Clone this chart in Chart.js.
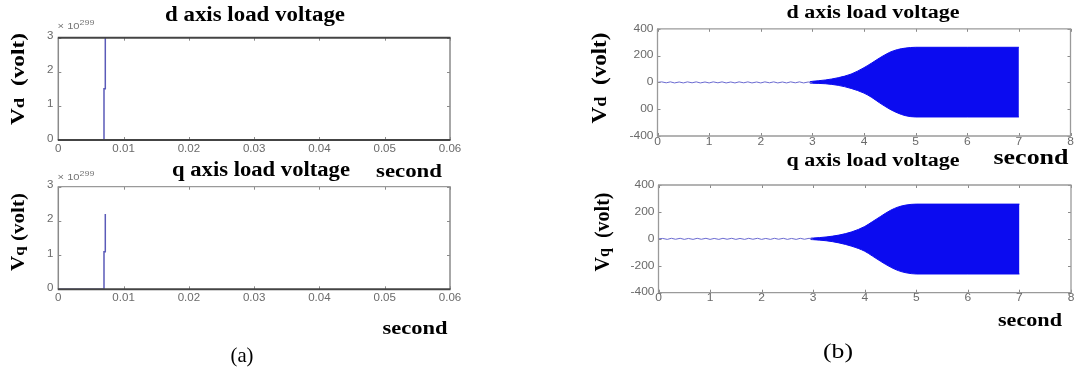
<!DOCTYPE html>
<html><head><meta charset="utf-8">
<script src="https://cdn.jsdelivr.net/npm/chart.js@4"></script>
<style>
html,body{margin:0;padding:0;background:#fff;}
body{width:1075px;height:376px;position:relative;overflow:hidden;}
canvas{position:absolute;left:0;top:0;}
.t{position:absolute;white-space:nowrap;line-height:1;transform-origin:0 0;color:#000;}
.t sup{font-size:0.8em;vertical-align:0.5em;line-height:0;}
</style></head><body>
<canvas id="ad" width="1075" height="376"></canvas>
<canvas id="aq" width="1075" height="376"></canvas>
<canvas id="bd" width="1075" height="376"></canvas>
<canvas id="bq" width="1075" height="376"></canvas>
<script>
// ---------- data ----------
// (a) values are in units of 1e299 volt
const aTicksX = [0, 0.01, 0.02, 0.03, 0.04, 0.05, 0.06];
const aLabelsX = ['0', '0.01', '0.02', '0.03', '0.04', '0.05', '0.06'];
const aTicksY = [0, 1, 2, 3];
const aLabelsY = ['0', '1', '2', '3'];
const adTime  = [0, 0.0070, 0.0070, 0.0072, 0.0072];
const adValue = [0, 0, 1.5, 1.5, 3.0];
const aqTime  = [0, 0.0070, 0.0070, 0.0072, 0.0072];
const aqValue = [0, 0, 1.1, 1.1, 2.2];

// (b)
const bTicksX = [0, 1, 2, 3, 4, 5, 6, 7, 8];
const bLabelsX = ['0', '1', '2', '3', '4', '5', '6', '7', '8'];
const bTicksY = [-400, -200, 0, 200, 400];
const bdLabelsY = ['-400', '00', '0', '200', '400'];
const bqLabelsY = ['-400', '-200', '0', '200', '400'];
const rippleTime = [0, 0.08, 0.17, 0.25, 0.33, 0.42, 0.5, 0.58, 0.67, 0.75, 0.83, 0.92, 1.0,
  1.08, 1.17, 1.25, 1.33, 1.42, 1.5, 1.58, 1.67, 1.75, 1.83, 1.92, 2.0,
  2.08, 2.17, 2.25, 2.33, 2.42, 2.5, 2.58, 2.67, 2.75, 2.83, 2.92, 3.0];
const bdRipple = [0, 4, -3, 4, -4, 3, -4, 4, -3, 4, -4, 3, -4,
  4, -3, 4, -4, 3, -4, 4, -3, 4, -4, 3, -4,
  4, -3, 4, -4, 3, -4, 4, -3, 4, -4, 3, -3];
const bqRipple = [0, 3, -4, 4, -3, 4, -4, 3, -4, 4, -3, 4, -4,
  3, -4, 4, -3, 4, -4, 3, -4, 4, -3, 4, -4,
  3, -4, 4, -3, 4, -4, 3, -4, 4, -3, 4, -3];
const envTime = [2.95, 3.0, 3.25, 3.5, 3.75, 4.0, 4.15, 4.3, 4.5, 4.65, 4.8, 5.0, 6.0, 7.0];
const bdUpper = [5, 8, 18, 35, 62, 110, 145, 182, 225, 245, 256, 262, 262, 262];
const bdLower = [-5, -6, -10, -22, -45, -80, -112, -152, -200, -228, -248, -258, -258, -258];
const bqUpper = [5, 6, 14, 28, 52, 92, 128, 165, 212, 237, 251, 258, 258, 258];
const bqLower = [-5, -6, -14, -30, -55, -92, -128, -165, -210, -236, -252, -261, -261, -261];

// ---------- helpers ----------
const W = 1075, H = 376;
const pts = (xs, ys) => xs.map((x, i) => ({x: x, y: ys[i]}));

function drawScaled(ctx, text, x, y, align, sx) {
  ctx.save();
  ctx.translate(x, y);
  ctx.scale(sx, 1);
  ctx.textAlign = align;
  ctx.textBaseline = 'middle';
  ctx.fillText(text, 0, 0);
  ctx.restore();
}

const boxPlugin = {
  id: 'box',
  afterDraw(chart, args, o) {
    const ctx = chart.ctx, a = chart.chartArea;
    const xs = chart.scales.x, ys = chart.scales.y;
    ctx.save();
    ctx.strokeStyle = o.tickColor;
    ctx.lineWidth = 1;
    ctx.beginPath();
    o.xTicks.forEach(v => {
      const p = Math.round(xs.getPixelForValue(v)) + 0.5;
      ctx.moveTo(p, a.bottom); ctx.lineTo(p, a.bottom - o.tickLen);
      ctx.moveTo(p, a.top); ctx.lineTo(p, a.top + o.tickLen);
    });
    o.yTicks.forEach(v => {
      const p = Math.round(ys.getPixelForValue(v)) + 0.5;
      ctx.moveTo(a.left, p); ctx.lineTo(a.left + o.tickLen, p);
      ctx.moveTo(a.right, p); ctx.lineTo(a.right - o.tickLen, p);
    });
    ctx.stroke();
    const side = (s, x1, y1, x2, y2) => {
      ctx.strokeStyle = s[0]; ctx.lineWidth = s[1];
      ctx.beginPath(); ctx.moveTo(x1, y1); ctx.lineTo(x2, y2); ctx.stroke();
    };
    const b = o.borders;
    side(b.left, a.left, a.top, a.left, a.bottom);
    side(b.right, a.right, a.top, a.right, a.bottom);
    side(b.top, a.left - 0.5, a.top, a.right + 0.5, a.top);
    side(b.bottom, a.left - 0.5, a.bottom, a.right + 0.5, a.bottom);
    ctx.fillStyle = o.labelColor;
    ctx.font = o.font;
    o.xTicks.forEach((v, i) => drawScaled(ctx, o.xLabels[i], xs.getPixelForValue(v), a.bottom + o.xDy, 'center', o.sx));
    o.yTicks.forEach((v, i) => drawScaled(ctx, o.yLabels[i], a.left - o.yDx, ys.getPixelForValue(v) + o.yDy, 'right', o.sx));
    ctx.restore();
  }
};

function makeChart(id, datasets, area, xr, yr, box) {
  return new Chart(document.getElementById(id), {
    type: 'line',
    data: {datasets: datasets},
    options: {
      responsive: false, animation: false, events: [],
      layout: {padding: {left: area.l, top: area.t, right: W - area.r, bottom: H - area.b}},
      scales: {
        x: {type: 'linear', min: xr[0], max: xr[1], display: false},
        y: {type: 'linear', min: yr[0], max: yr[1], display: false}
      },
      elements: {point: {radius: 0}, line: {tension: 0}},
      plugins: {legend: {display: false}, tooltip: {enabled: false}, box: box}
    },
    plugins: [boxPlugin]
  });
}

const aBoxBase = {
  xTicks: aTicksX, xLabels: aLabelsX, yTicks: aTicksY, yLabels: aLabelsY,
  tickColor: '#8a8a8a', tickLen: 3, labelColor: '#6a6a6a',
  font: '11px "Liberation Sans", Arial, sans-serif', sx: 1.05, xDy: 9, yDx: 5, yDy: -1.5
};
makeChart('ad', [
  {data: pts(adTime, adValue), borderColor: '#5a5ab8', borderWidth: 1.5, fill: false}
], {l: 58.3, r: 450, t: 37.7, b: 140}, [0, 0.06], [0, 3],
  Object.assign({}, aBoxBase, {borders: {
    top: ['#444', 2], bottom: ['#444', 2], left: ['#8a8a8a', 1.5], right: ['#8a8a8a', 1.5]}}));

makeChart('aq', [
  {data: pts(aqTime, aqValue), borderColor: '#5a5ab8', borderWidth: 1.5, fill: false}
], {l: 58.3, r: 450, t: 186.7, b: 289.3}, [0, 0.06], [0, 3],
  Object.assign({}, aBoxBase, {borders: {
    top: ['#9a9a9a', 1.2], bottom: ['#444', 2], left: ['#8a8a8a', 1.5], right: ['#8a8a8a', 1.5]}}));

const bBoxBase = {
  xTicks: bTicksX, xLabels: bLabelsX, yTicks: bTicksY,
  tickColor: '#8a8a8a', tickLen: 3, labelColor: '#6a6a6a',
  font: '10px "Liberation Sans", Arial, sans-serif', sx: 1.2, xDy: 6, yDx: 4, yDy: 0,
  borders: {top: ['#9a9a9a', 1.3], bottom: ['#9a9a9a', 1.3], left: ['#9a9a9a', 1.3], right: ['#9a9a9a', 1.3]}
};
const blue = '#0b0bf0';
const envLine = {borderColor: blue, borderWidth: 1, cubicInterpolationMode: 'monotone'};
makeChart('bd', [
  {data: pts(rippleTime, bdRipple), borderColor: '#6a6ad0', borderWidth: 1, fill: false},
  Object.assign({data: pts(envTime, bdUpper), fill: false}, envLine),
  Object.assign({data: pts(envTime, bdLower), fill: '-1', backgroundColor: blue}, envLine)
], {l: 657.5, r: 1070.5, t: 28.8, b: 136}, [0, 8], [-400, 400],
  Object.assign({}, bBoxBase, {yLabels: bdLabelsY}));

makeChart('bq', [
  {data: pts(rippleTime, bqRipple), borderColor: '#6a6ad0', borderWidth: 1, fill: false},
  Object.assign({data: pts(envTime, bqUpper), fill: false}, envLine),
  Object.assign({data: pts(envTime, bqLower), fill: '-1', backgroundColor: blue}, envLine)
], {l: 658.5, r: 1071, t: 185, b: 292.7}, [0, 8], [-400, 400],
  Object.assign({}, bBoxBase, {yLabels: bqLabelsY}));

// ---------- text ----------
const serifB = (px) => 'bold ' + px + 'px "Liberation Serif", "Times New Roman", serif';
const serif = (px) => px + 'px "Liberation Serif", "Times New Roman", serif';
const sans = (px) => px + 'px "Liberation Sans", Arial, sans-serif';
const sub = (c) => '<span style="font-size:0.8em">' + c + '</span>';
const texts = [
  {h: 'd axis load voltage', x: 255, y: 16, w: 180, f: serifB(20)},
  {h: 'q axis load voltage', x: 261, y: 171, w: 178, f: serifB(20)},
  {h: 'second', x: 409, y: 171.5, w: 66, f: serifB(19)},
  {h: 'second', x: 415, y: 329, w: 65, f: serifB(19)},
  {h: '(a)', x: 242, y: 357, w: 23, f: serif(21)},
  {h: 'V' + sub('d') + '&nbsp;&nbsp;(volt)', x: 19, y: 79, w: 92, f: serifB(19), rot: -90},
  {h: 'V' + sub('q') + '&nbsp;(volt)', x: 19, y: 232, w: 78, f: serifB(19), rot: -90},
  {h: '× 10<sup>299</sup>', x: 76, y: 27, w: 37, f: sans(9), c: '#777'},
  {h: '× 10<sup>299</sup>', x: 76, y: 178, w: 37, f: sans(9), c: '#777'},
  {h: 'd axis load voltage', x: 873, y: 14, w: 173, f: serifB(18)},
  {h: 'q axis load voltage', x: 873, y: 162, w: 173, f: serifB(18)},
  {h: 'second', x: 1030.5, y: 159.5, w: 75, f: serifB(21)},
  {h: 'second', x: 1030, y: 320.5, w: 64, f: serifB(19)},
  {h: '(b)', x: 838, y: 353, w: 30, f: serif(22)},
  {h: 'V' + sub('d') + '&nbsp;&nbsp;(volt)', x: 601, y: 78, w: 91, f: serifB(21), rot: -90},
  {h: 'V' + sub('q') + '&nbsp;&nbsp;(volt)', x: 604, y: 232, w: 79, f: serifB(21), rot: -90}
];
texts.forEach(t => {
  const el = document.createElement('div');
  el.className = 't';
  el.style.font = t.f;
  el.style.lineHeight = '1';
  if (t.c) el.style.color = t.c;
  el.innerHTML = t.h;
  document.body.appendChild(el);
  const nat = el.getBoundingClientRect().width;
  const fs = parseFloat(getComputedStyle(el).fontSize);
  const s = t.w / nat;
  const rot = t.rot || 0;
  let x = t.x, y = t.y;
  if (rot === 0) y -= 0.1 * fs; else x -= 0.1 * fs;
  el.style.left = x + 'px';
  el.style.top = y + 'px';
  el.style.transform = 'rotate(' + rot + 'deg) scaleX(' + s + ') translate(-50%,-50%)';
});
</script>
</body></html>
